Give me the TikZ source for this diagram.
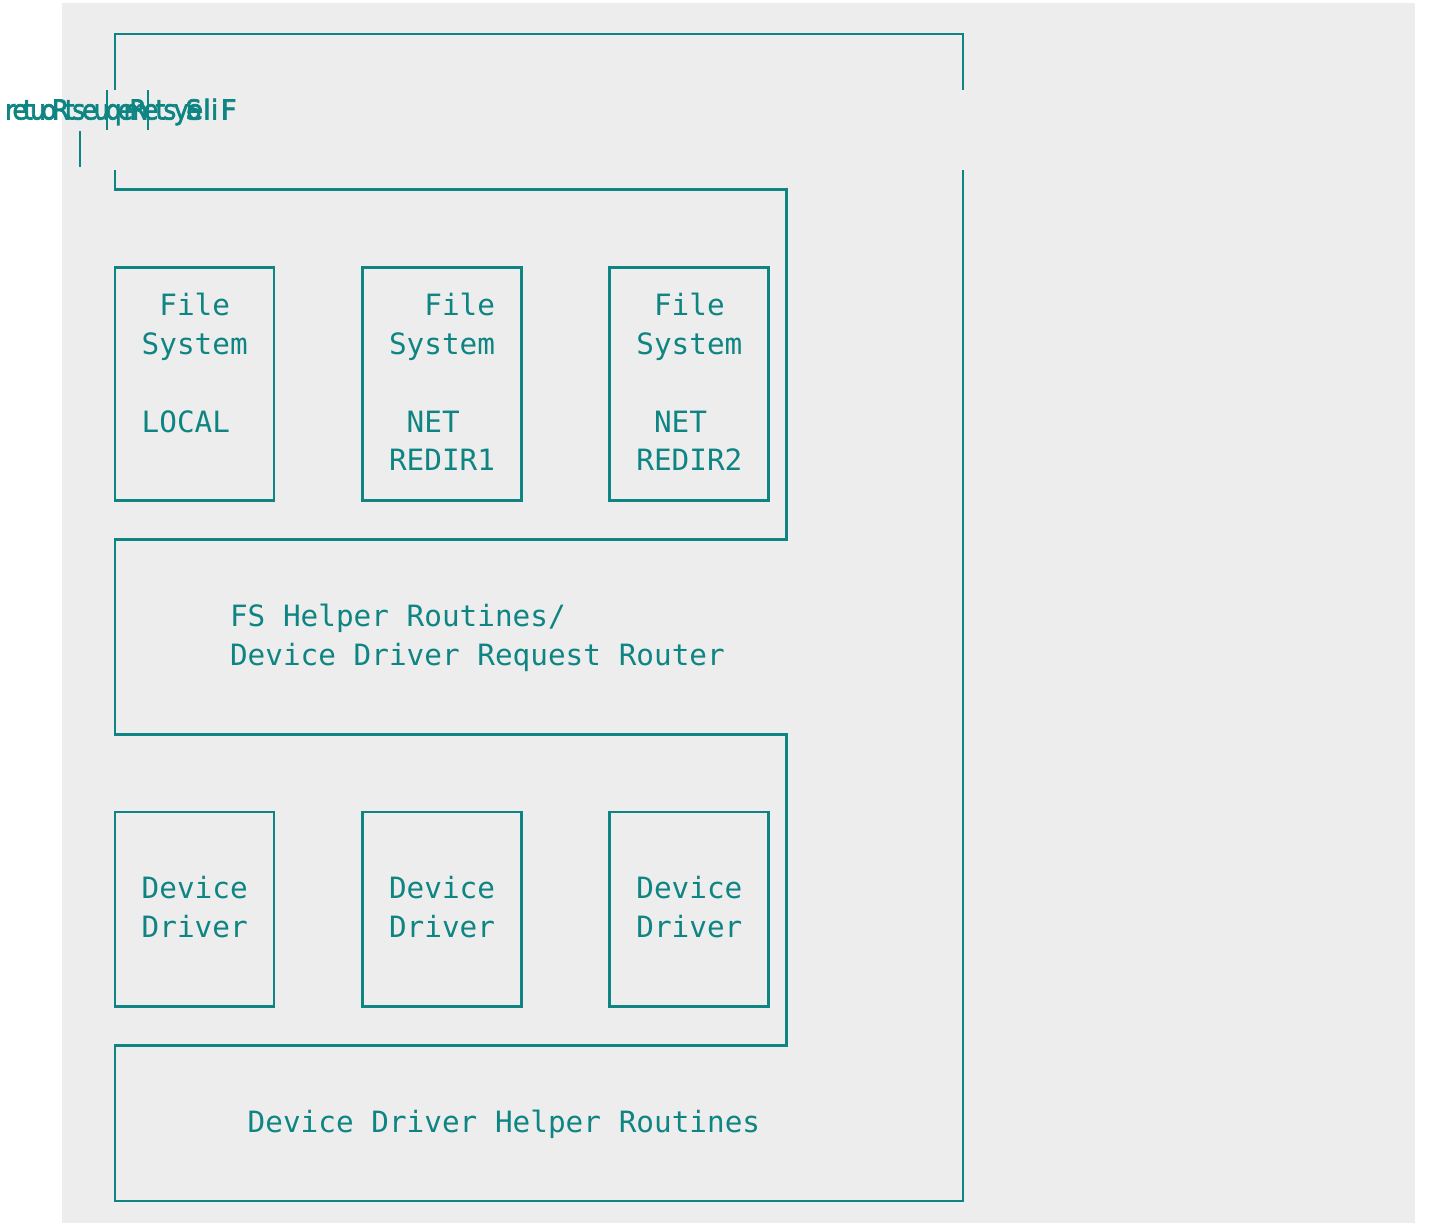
\documentclass[tikz,border=0pt]{standalone}
\usepackage{fontspec}
\usepackage{graphicx}
\setmonofont{DejaVu Sans Mono}
\newfontfamily\labelsans[FakeBold=2.5]{DejaVu Sans}
\definecolor{ink}{HTML}{0E8582}
\definecolor{paper}{HTML}{EDEDED}

% squeezed word: every glyph keeps (almost) its own width,
% but the pen only moves on by \sqfactor of its advance
\newcommand\sqglyph[1]{\setbox0=\hbox{#1}\rlap{\scalebox{0.9}[1]{#1}}\kern\sqfactor\wd0}
\def\sqloop#1{\ifx#1\relax\else\sqglyph{#1}\expandafter\sqloop\fi}
\newcommand\sqword[2]{\def\sqfactor{#1}\sqloop#2\relax\kern0.3em}

\tikzset{
  frame/.style={draw=ink, line width=2.8pt, line join=miter},
  glyphbar/.style={draw=ink, line width=2.2pt},
  module/.style={draw=ink, line width=2.8pt, minimum width=159pt,
    minimum height=233.4pt, inner sep=0pt, outer sep=0pt, anchor=north west},
  drvmodule/.style={module, minimum height=194.5pt},
  mono/.style={text=ink, font=\fontsize{29.35pt}{38.9pt}\ttfamily,
    inner sep=0pt, anchor=base west, xshift=-8.83pt, yshift=-9pt},
  rtlword/.style={text=ink, font=\labelsans\fontsize{27.5pt}{30pt}\selectfont,
    inner sep=0pt, anchor=base west}
}

\begin{document}
\begin{tikzpicture}[x=1pt, y=-1pt]
  % page and panel
  \useasboundingbox (0,0) rectangle (1431,1223);
  \fill[white] (0,0) rectangle (1431,1223);
  \fill[paper] (62,3) rectangle (1415,1223);

  % title line, its words laid out right to left and squeezed together
  \node[rtlword] (wRouter)  at (5,119.5)     {\sqword{0.64}{retuoR}};
  \node[rtlword] (wRequest) at (64.6,119.5)  {\sqword{0.69}{tseuqeR}};
  \node[rtlword] (wSystem)  at (123.4,119.5) {\sqword{0.73}{metsyS}};
  \node[rtlword] (wFile)    at (186,119.5)   {eli\kern2.5pt F};
  \draw[glyphbar] (107,90) -- (107,130);
  \draw[glyphbar] (148,90) -- (148,130);
  \draw[glyphbar] (80,131) -- (80,167);

  % character grid: one column = 17.667pt, one row = 38.9pt
  \begin{scope}[shift={(115,34)}, x=17.667pt, y=-38.9pt]
    % outer frame
    \draw[frame] (0,1.44) -- (0,0) -- (48,0) -- (48,1.44);
    \draw[frame] (0,3.5) -- (0,4) -- (38,4) -- (38,13) -- (0,13) -- (0,18)
      -- (38,18) -- (38,26) -- (0,26) -- (0,30) -- (48,30) -- (48,3.5);

    % file system modules
    \node[module] (fsLocal) at (0,6) {};
    \node[module] (fsNet1)  at (14,6) {};
    \node[module] (fsNet2)  at (28,6) {};

    \node[mono] (tLocalA) at (3,7)  {File};
    \node[mono] (tLocalB) at (2,8)  {System};
    \node[mono] (tLocalC) at (2,10) {LOCAL};

    \node[mono] (tNetOneA) at (18,7)  {File};
    \node[mono] (tNetOneB) at (16,8)  {System};
    \node[mono] (tNetOneC) at (17,10) {NET};
    \node[mono] (tNetOneD) at (16,11) {REDIR1};

    \node[mono] (tNetTwoA) at (31,7)  {File};
    \node[mono] (tNetTwoB) at (30,8)  {System};
    \node[mono] (tNetTwoC) at (31,10) {NET};
    \node[mono] (tNetTwoD) at (30,11) {REDIR2};

    % router layer
    \node[mono] (tRouterA) at (7,15) {FS Helper Routines/};
    \node[mono] (tRouterB) at (7,16) {Device Driver Request Router};

    % device driver modules
    \node[drvmodule] (ddOne)   at (0,20) {};
    \node[drvmodule] (ddTwo)   at (14,20) {};
    \node[drvmodule] (ddThree) at (28,20) {};

    \node[mono] (tDdOneA)   at (2,22)  {Device};
    \node[mono] (tDdOneB)   at (2,23)  {Driver};
    \node[mono] (tDdTwoA)   at (16,22) {Device};
    \node[mono] (tDdTwoB)   at (16,23) {Driver};
    \node[mono] (tDdThreeA) at (30,22) {Device};
    \node[mono] (tDdThreeB) at (30,23) {Driver};

    % helper layer
    \node[mono] (tHelper) at (8,28) {Device Driver Helper Routines};
  \end{scope}
\end{tikzpicture}
\end{document}
